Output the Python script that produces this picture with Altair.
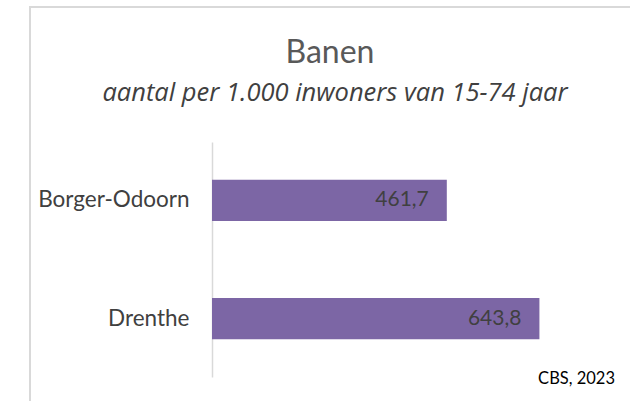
import altair as alt
import pandas as pd

regions = ["Borger-Odoorn", "Drenthe"]
values = [461.7, 643.8]
labels = [f"{v:.1f}".replace(".", ",") for v in values]
title_text = "Banen"
subtitle_text = "aantal per 1.000 inwoners van 15-74 jaar"
source_text = "CBS, 2023"

df = pd.DataFrame({"regio": regions, "waarde": values, "label": labels})

FONT = "Lato"
PURPLE = "#7C66A5"

base = alt.Chart(df)

y_enc = alt.Y(
    "regio:N",
    sort=None,
    scale=alt.Scale(paddingInner=0.65, paddingOuter=0.32),
    axis=alt.Axis(
        title=None,
        ticks=False,
        labelFont=FONT,
        labelFontSize=22.5,
        labelColor="#404040",
        labelPadding=23,
        domainColor="#D9D9D9",
        domainWidth=1.5,
        grid=False,
    ),
)
x_enc = alt.X(
    "waarde:Q",
    scale=alt.Scale(domain=[0, 700], nice=False),
    axis=None,
)

bars = base.mark_bar(color=PURPLE).encode(x=x_enc, y=y_enc)

text = base.mark_text(
    align="right", baseline="middle", dx=-18, font=FONT, fontSize=21, color="#404040"
).encode(x=x_enc, y=y_enc, text="label:N")

one = pd.DataFrame({"t": [source_text], "h": [title_text], "s": [subtitle_text]})

source = alt.Chart(one).mark_text(
    align="right", baseline="alphabetic", font=FONT, fontSize=16.5, color="#000000"
).encode(x=alt.value(403), y=alt.value(242), text="t:N")

title = alt.Chart(one).mark_text(
    align="center", baseline="alphabetic", font=FONT, fontSize=32, color="#595959"
).encode(x=alt.value(118), y=alt.value(-79), text="h:N")

subtitle = alt.Chart(one).mark_text(
    align="center", baseline="alphabetic", font="Open Sans", fontSize=25.5,
    fontStyle="italic", color="#404040"
).encode(x=alt.value(123), y=alt.value(-41), text="s:N")

border = alt.Chart(one).mark_rect(
    fill="white", fillOpacity=0, stroke="#D9D9D9", strokeWidth=2
).encode(x=alt.value(-182), x2=alt.value(700), y=alt.value(-135), y2=alt.value(400))

chart = (
    alt.layer(border, bars, text, source, title, subtitle)
    .properties(
        width=356,
        height=235,
        autosize=alt.AutoSizeParams(type="none"),
        padding={"left": 212, "top": 142, "right": 62, "bottom": 24},
        view=alt.ViewBackground(stroke="transparent", strokeWidth=0),
    )
    .configure_view(stroke="transparent", strokeWidth=0)
    .configure(background="white")
)

chart.save("out.html", embed_options={"renderer": "svg", "actions": False})
